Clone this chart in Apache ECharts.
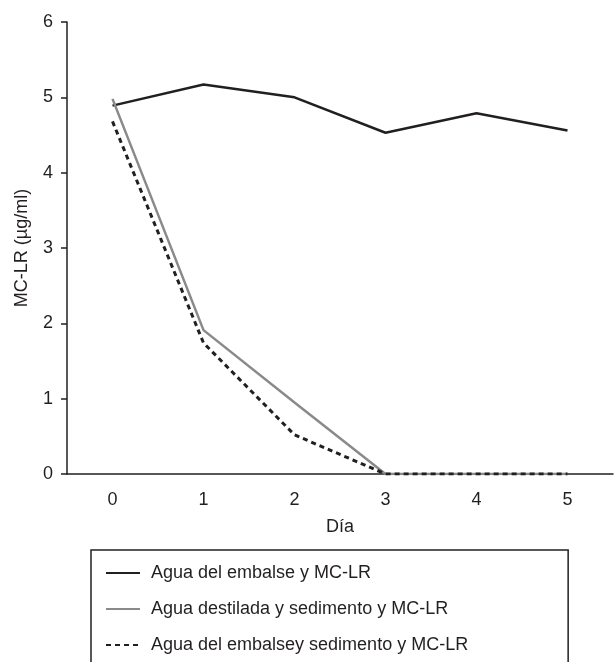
<!DOCTYPE html>
<html>
<head>
<meta charset="utf-8">
<script src="https://cdn.jsdelivr.net/npm/echarts@6/dist/echarts.min.js"></script>
<style>
  html, body { margin: 0; padding: 0; background: #fff; }
  #chart { width: 614px; height: 662px; }
</style>
</head>
<body>
<div id="chart"></div>
<script>
// datos
var dias = ['0', '1', '2', '3', '4', '5'];
var embalse = [4.89, 5.17, 5.0, 4.53, 4.79, 4.56];
var destilada = [4.98, 1.91, 0.95, 0, 0, 0];
var embalseSed = [4.68, 1.74, 0.52, 0, 0, 0];

var ink = '#231f20';
var font = 'Liberation Sans';

var myChart = echarts.init(document.getElementById('chart'));
myChart.setOption({
  animation: false,
  textStyle: { fontFamily: font, color: ink },
  grid: { left: 67, right: 1, top: 22, bottom: 188 },
  legend: {
    orient: 'vertical',
    left: 91,
    top: 550,
    height: 140,
    padding: [14, 100, 40, 14],
    borderColor: ink,
    borderWidth: 1.5,
    itemWidth: 34,
    itemHeight: 14,
    itemGap: 18,
    itemStyle: { opacity: 0, borderWidth: 0 },
    textStyle: { fontFamily: font, fontSize: 18, color: ink, padding: [0, 0, 0, 6] },
    data: ['Agua del embalse y MC-LR', 'Agua destilada y sedimento y MC-LR', 'Agua del embalsey sedimento y MC-LR']
  },
  xAxis: {
    type: 'category',
    data: dias,
    boundaryGap: true,
    name: 'Día',
    nameLocation: 'middle',
    nameGap: 44,
    nameTextStyle: { fontSize: 18, color: ink },
    axisLine: { lineStyle: { color: ink, width: 1.5 } },
    axisTick: { length: 6, lineStyle: { color: ink, width: 1.5 } },
    axisLabel: { fontSize: 18, color: ink, margin: 17 }
  },
  yAxis: {
    type: 'value',
    min: 0,
    max: 6,
    interval: 1,
    name: 'MC-LR (µg/ml)',
    nameLocation: 'middle',
    nameGap: 36,
    nameTextStyle: { fontSize: 18, color: ink },
    axisLine: { show: true, lineStyle: { color: ink, width: 1.5 } },
    axisTick: { show: true, length: 6, lineStyle: { color: ink, width: 1.5 } },
    axisLabel: { fontSize: 18, color: ink, margin: 14 },
    splitLine: { show: false }
  },
  series: [
    {
      name: 'Agua del embalse y MC-LR',
      type: 'line',
      data: embalse,
      symbol: 'none',
      lineStyle: { color: ink, width: 2.5 },
      itemStyle: { color: ink }
    },
    {
      name: 'Agua destilada y sedimento y MC-LR',
      type: 'line',
      data: destilada,
      symbol: 'none',
      lineStyle: { color: '#8a8a8a', width: 2.5 },
      itemStyle: { color: '#8a8a8a' }
    },
    {
      name: 'Agua del embalsey sedimento y MC-LR',
      type: 'line',
      data: embalseSed,
      symbol: 'none',
      lineStyle: { color: ink, width: 3, type: [5, 4] },
      itemStyle: { color: ink }
    }
  ]
});
</script>
</body>
</html>
